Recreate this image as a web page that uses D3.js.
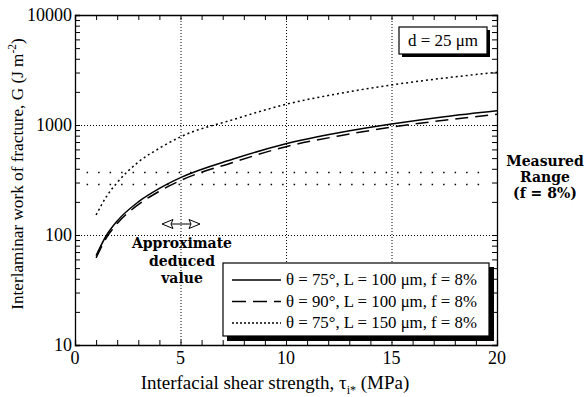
<!doctype html><html><head><style>body{margin:0;background:#fff}</style></head><body><script src='https://d3js.org/d3.v7.min.js'></script>

<script>
// Dimensions
const W = 584, H = 397;
const pLeft = 75, pRight = 497, pTop = 15, pBottom = 345;

// Data
const tau      = [1, 1.5, 2, 3, 4, 5, 7.5, 10, 12.5, 15, 17.5, 20];
const gSolid   = [65, 100, 134, 200, 265, 332, 490, 675, 850, 1020, 1190, 1349];
const gDashed  = [62, 95, 127, 189, 250, 313, 458, 635, 795, 955, 1105, 1250];
const gDotted  = [152, 225, 300, 460, 615, 780, 1120, 1542, 1930, 2310, 2670, 3013];
const measured = [375, 290];
const xTicks   = [0, 5, 10, 15, 20];
const yTicks   = [10, 100, 1000, 10000];
const legendLabels = ["θ = 75°, L = 100 μm, f = 8%", "θ = 90°, L = 100 μm, f = 8%", "θ = 75°, L = 150 μm, f = 8%"];

const serif = "Liberation Serif";

const svg = d3.select("body").append("svg")
  .attr("width", W).attr("height", H)
  .attr("font-family", serif);
svg.append("rect").attr("width", W).attr("height", H).attr("fill", "#fff");

const x = d3.scaleLinear().domain([0, 20]).range([pLeft, pRight]);
const y = d3.scaleLog().domain([10, 10000]).range([pBottom, pTop]);

// grid lines
const grid = svg.append("g").attr("stroke", "#000").attr("stroke-width", 1).attr("stroke-dasharray", "1,2");
grid.selectAll(".gx").data([5, 10, 15]).enter().append("line")
  .attr("x1", d => x(d) + 0.5).attr("x2", d => x(d) + 0.5).attr("y1", pTop).attr("y2", pBottom);
grid.selectAll(".gy").data([100, 1000]).enter().append("line")
  .attr("x1", pLeft).attr("x2", pRight).attr("y1", d => Math.round(y(d)) + 0.5).attr("y2", d => Math.round(y(d)) + 0.5);

// measured range lines
svg.append("g").selectAll("line").data(measured).enter().append("line")
  .attr("x1", x(0.55)).attr("x2", x(19.3))
  .attr("y1", d => Math.round(y(d)) + 0.5).attr("y2", d => Math.round(y(d)) + 0.5)
  .attr("stroke", "#000").attr("stroke-width", 1.4).attr("stroke-dasharray", "1.5,10");

// axes (ticks inward on all four sides)
const minor = [];
for (let k = 10; k < 10000; k *= 10) for (let m = 2; m <= 9; m++) minor.push(k * m);
const xMinor = d3.range(0, 21);

function drawAxis(gen, tf) {
  const g = svg.append("g").attr("transform", tf).call(gen);
  g.select(".domain").attr("stroke-width", 1.3);
  g.selectAll("text").remove();
  return g;
}
drawAxis(d3.axisBottom(x).tickValues(xMinor).tickSize(-5).tickFormat(""), `translate(0,${pBottom})`);
drawAxis(d3.axisTop(x).tickValues(xMinor).tickSize(-5).tickFormat(""), `translate(0,${pTop})`);
drawAxis(d3.axisLeft(y).tickValues(minor.concat(yTicks)).tickSize(-5).tickFormat(""), `translate(${pLeft},0)`);
drawAxis(d3.axisRight(y).tickValues(minor.concat(yTicks)).tickSize(-5).tickFormat(""), `translate(${pRight},0)`);

// tick labels
svg.append("g").selectAll("text").data(xTicks).enter().append("text")
  .attr("x", d => x(d)).attr("y", 364).attr("text-anchor", "middle")
  .attr("font-family", serif).attr("font-size", 18).text(d => d);
svg.append("g").selectAll("text").data(yTicks).enter().append("text")
  .attr("x", 72).attr("y", d => y(d) + 6).attr("text-anchor", "end")
  .attr("font-family", serif).attr("font-size", 18).text(d => d);

// axis titles
const xt = svg.append("text").attr("x", 275).attr("y", 389).attr("text-anchor", "middle")
  .attr("font-family", serif).attr("font-size", 19);
xt.append("tspan").text("Interfacial shear strength, τ");
xt.append("tspan").attr("font-size", 12).attr("dy", 5).text("i*");
xt.append("tspan").attr("dy", -5).text(" (MPa)");

const yt = svg.append("text").attr("transform", "translate(23,174) rotate(-90)").attr("text-anchor", "middle")
  .attr("font-family", serif).attr("font-size", 17.2);
yt.append("tspan").text("Interlaminar work of fracture, G (J m");
yt.append("tspan").attr("font-size", 11.5).attr("dy", -7).text("-2");
yt.append("tspan").attr("dy", 7).text(")");

// curves
const line = d3.line().x((d, i) => x(tau[i])).y(d => y(d)).curve(d3.curveMonotoneX);
const series = [
  {v: gSolid, dash: null},
  {v: gDashed, dash: "13,7"},
  {v: gDotted, dash: "2,3"}
];
series.forEach(s => {
  svg.append("path").datum(s.v).attr("fill", "none").attr("stroke", "#000")
    .attr("stroke-width", 1.5).attr("stroke-dasharray", s.dash).attr("d", line);
});

// d = 25 um box
svg.append("rect").attr("x", 402).attr("y", 30).attr("width", 88).attr("height", 27).attr("fill", "#000");
svg.append("rect").attr("x", 399).attr("y", 27).attr("width", 88).attr("height", 27).attr("fill", "#fff").attr("stroke", "#000").attr("stroke-width", 1.2);
svg.append("text").attr("x", 443).attr("y", 46).attr("text-anchor", "middle")
  .attr("font-family", serif).attr("font-size", 17).text("d = 25 μm");

// legend
const lg = svg.append("g");
lg.append("rect").attr("x", 227).attr("y", 267).attr("width", 267).attr("height", 74).attr("fill", "#000");
lg.append("rect").attr("x", 223).attr("y", 263).attr("width", 266).attr("height", 73).attr("fill", "#fff").attr("stroke", "#000").attr("stroke-width", 1.2);
legendLabels.forEach((t, i) => {
  const yy = 280 + i * 21.5;
  lg.append("line").attr("x1", 232).attr("x2", 281).attr("y1", yy).attr("y2", yy)
    .attr("stroke", "#000").attr("stroke-width", 1.3).attr("stroke-dasharray", series[i].dash ? (i === 1 ? "14,7" : "2,2") : null);
  lg.append("text").attr("x", 286).attr("y", yy + 5).attr("font-family", serif).attr("font-size", 16.8).text(t);
});

// annotations
const bold = "DejaVu Serif";
const ann = svg.append("g").attr("font-family", bold).attr("font-weight", "bold").attr("font-size", 14).attr("text-anchor", "middle");
[["Approximate", 248], ["deduced", 266], ["value", 283]].forEach(d => ann.append("text").attr("x", 182).attr("y", d[1]).text(d[0]));
[["Measured", 166], ["Range", 182], ["(f = 8%)", 198]].forEach(d => ann.append("text").attr("x", 545).attr("y", d[1]).text(d[0]));

// double arrow at approximate value
const ay = 224, ax = x(5) + 0.5;
const arr = svg.append("g").attr("fill", "#fff").attr("stroke", "#000").attr("stroke-width", 1);
arr.append("line").attr("x1", ax - 10).attr("x2", ax + 10).attr("y1", ay).attr("y2", ay);
arr.append("path").attr("d", `M${ax - 19},${ay} L${ax - 8},${ay - 4.5} L${ax - 10},${ay} L${ax - 8},${ay + 4.5} Z`);
arr.append("path").attr("d", `M${ax + 19},${ay} L${ax + 8},${ay - 4.5} L${ax + 10},${ay} L${ax + 8},${ay + 4.5} Z`);
</script></body></html>
